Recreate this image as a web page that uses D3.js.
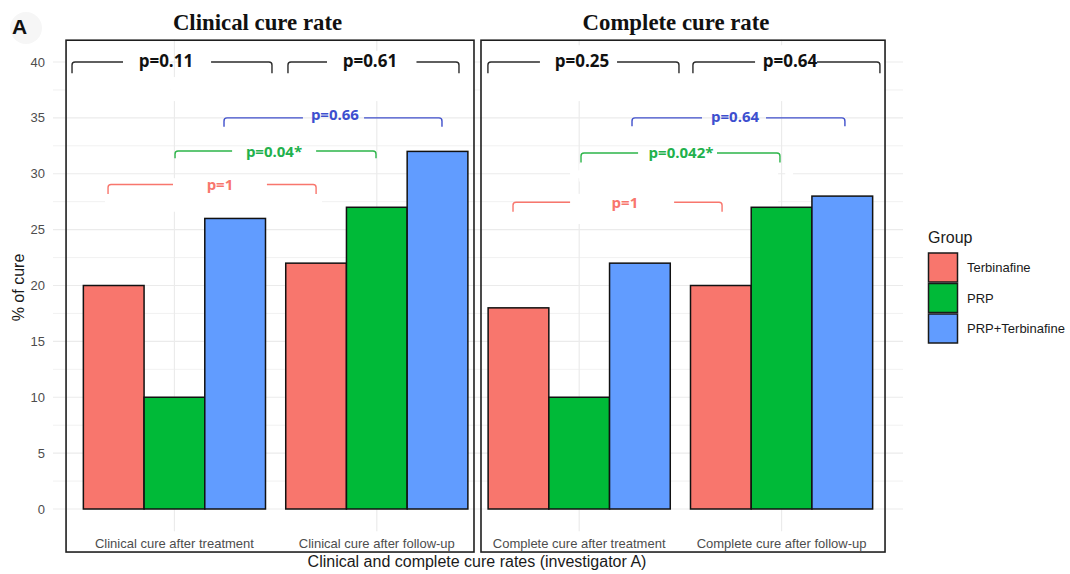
<!DOCTYPE html>
<html>
<head>
<meta charset="utf-8">
<script src="https://cdn.jsdelivr.net/npm/d3@7"></script>
<style>
  html, body { margin: 0; padding: 0; background: #fff; }
  svg { display: block; }
</style>
</head>
<body>
<div id="chart"></div>
<script>
// ---- data ----
const categories = [
  "Clinical cure after treatment",
  "Clinical cure after follow-up",
  "Complete cure after treatment",
  "Complete cure after follow-up"
];
const groups = ["Terbinafine", "PRP", "PRP+Terbinafine"];
const terbinafine    = [20, 22, 18, 20];
const prp            = [10, 27, 10, 27];
const prpTerbinafine = [26, 32, 22, 28];
const yTicks = [0, 5, 10, 15, 20, 25, 30, 35, 40];
const panelTitles = ["Clinical cure rate", "Complete cure rate"];

// p-values of the pairwise comparisons
const pOverall  = ["p=0.11", "p=0.61", "p=0.25", "p=0.64"];
const pBetween  = ["p=1", "p=0.04*", "p=0.66", "p=1", "p=0.042*", "p=0.64"];

// ---- layout ----
const W = 1070, H = 574;
const colors = { "Terbinafine": "#F8766D", "PRP": "#00BA38", "PRP+Terbinafine": "#619CFF" };
const seriesByGroup = [terbinafine, prp, prpTerbinafine];

const svg = d3.select("#chart").append("svg")
  .attr("width", W).attr("height", H)
  .style("font-family", "'Liberation Sans', Arial, sans-serif");

// x in category units (category i centred on i), y in percent
const xu = d3.scaleLinear().domain([-0.6, 3.6]).range([53, 903]);
const y = d3.scaleLinear().domain([0, 40]).range([509, 62]);

// ---- grid ----
const grid = svg.append("g");
const minor = d3.range(2.5, 40, 5);
grid.selectAll(".gmin").data(minor).join("line")
  .attr("x1", xu(-0.6)).attr("x2", xu(3.6))
  .attr("y1", d => y(d)).attr("y2", d => y(d))
  .attr("stroke", "#efefef").attr("stroke-width", 0.9);
grid.selectAll(".gmaj").data(yTicks).join("line")
  .attr("x1", xu(-0.6)).attr("x2", xu(3.6))
  .attr("y1", d => y(d)).attr("y2", d => y(d))
  .attr("stroke", "#ebebeb").attr("stroke-width", 1.2);
grid.selectAll(".gv").data(d3.range(categories.length)).join("line")
  .attr("x1", d => xu(d)).attr("x2", d => xu(d))
  .attr("y1", y(-2)).attr("y2", y(42))
  .attr("stroke", "#ebebeb").attr("stroke-width", 1.2);

// white backgrounds behind the comparison brackets
const bgPatches = [
  [-0.535, -0.02, 41.0, 36.5],
  [0.028, 1.478, 41.0, 36.5],
  [-0.02, 0.028, 38.65, 36.5],
  [-0.343, 0.729, 29.6, 26.6],
  [1.517, 3.508, 41.5, 36.5],
  [1.955, 2.983, 30.3, 29.6],
  [3.018, 3.057, 30.3, 29.6],
  [1.955, 2.983, 28.2, 25.5],
  [2.0, 2.045, 30.9, 29.3]
];
svg.append("g").selectAll("rect").data(bgPatches).join("rect")
  .attr("x", d => xu(d[0])).attr("width", d => xu(d[1]) - xu(d[0]))
  .attr("y", d => y(d[2])).attr("height", d => y(d[3]) - y(d[2]))
  .attr("fill", "#fff");

// ---- y axis ----
svg.append("g").selectAll("text").data(yTicks).join("text")
  .attr("x", 45).attr("y", d => y(d)).attr("dy", "0.35em")
  .attr("text-anchor", "end").attr("font-size", 13).attr("fill", "#4d4d4d")
  .text(d => d);

svg.append("text")
  .attr("transform", `translate(24,${(y(0) + y(40)) / 2 + 2}) rotate(-90)`)
  .attr("text-anchor", "middle").attr("font-size", 16).attr("fill", "#1a1a1a")
  .text("% of cure");

// ---- bars ----
const barW = 0.3;
const bars = [];
categories.forEach((c, i) => {
  groups.forEach((g, j) => {
    bars.push({ cat: i, group: g, value: seriesByGroup[j][i], x0: i - 0.45 + j * barW });
  });
});
svg.append("g").selectAll("rect").data(bars).join("rect")
  .attr("x", d => xu(d.x0)).attr("width", d => xu(d.x0 + barW) - xu(d.x0))
  .attr("y", d => y(d.value)).attr("height", d => y(0) - y(d.value))
  .attr("fill", d => colors[d.group])
  .attr("stroke", "#111").attr("stroke-width", 1.5);

// category labels
svg.append("g").selectAll("text").data(categories).join("text")
  .attr("x", (d, i) => xu(i)).attr("y", 548)
  .attr("text-anchor", "middle").attr("font-size", 13).attr("fill", "#4d4d4d")
  .text(d => d);

// ---- panel frames and titles ----
const frames = [[-0.5355, 1.4802], [1.5148, 3.5112]];
svg.append("g").selectAll("rect").data(frames).join("rect")
  .attr("x", d => xu(d[0])).attr("width", d => xu(d[1]) - xu(d[0]))
  .attr("y", y(41.95)).attr("height", y(-3.85) - y(41.95))
  .attr("fill", "none").attr("stroke", "#1f1f1f").attr("stroke-width", 1.6);

svg.append("g").selectAll("text").data(panelTitles).join("text")
  .attr("x", (d, i) => [257.5, 676][i]).attr("y", 30)
  .attr("text-anchor", "middle")
  .attr("font-family", "'Liberation Serif', 'Times New Roman', serif")
  .attr("font-weight", "bold").attr("font-size", 22.8).attr("fill", "#111")
  .text(d => d);

// ---- comparison brackets ----
// x1, x2: bracket ends; tx: label centre; gap: line break around label; yv: height; drop: tick length
const brackets = [
  { label: pOverall[0], x1: -0.506, x2: 0.482, tx: -0.042, gap: [-0.254, 0.181], yv: 40, drop: 1.0, color: "#2b2b2b", text: "#111", size: 17, dy: 5 },
  { label: pOverall[1], x1: 0.561, x2: 1.406, tx: 0.966, gap: [0.754, 1.196], yv: 40, drop: 1.0, color: "#2b2b2b", text: "#111", size: 17, dy: 5 },
  { label: pOverall[2], x1: 1.549, x2: 2.493, tx: 2.014, gap: [1.806, 2.187], yv: 40, drop: 1.0, color: "#2b2b2b", text: "#111", size: 17, dy: 5 },
  { label: pOverall[3], x1: 2.562, x2: 3.486, tx: 3.042, gap: [2.869, 3.175], yv: 40, drop: 1.0, color: "#2b2b2b", text: "#111", size: 17, dy: 5 },
  { label: pBetween[0], x1: -0.328, x2: 0.700, tx: 0.225, gap: [-0.007, 0.457], yv: 29.04, drop: 0.85, color: "#F8766D", text: "#F8766D", size: 15, dy: 6 },
  { label: pBetween[1], x1: 0.003, x2: 0.996, tx: 0.492, gap: [0.285, 0.700], yv: 32.04, drop: 0.65, color: "#2DB54A", text: "#22B14C", size: 15, dy: 6 },
  { label: pBetween[2], x1: 0.245, x2: 1.322, tx: 0.793, gap: [0.635, 0.937], yv: 35.0, drop: 0.8, color: "#3F4FCB", text: "#3D4FCF", size: 15, dy: 2 },
  { label: pBetween[3], x1: 1.673, x2: 2.706, tx: 2.226, gap: [1.955, 2.469], yv: 27.45, drop: 0.85, color: "#F8766D", text: "#F8766D", size: 15, dy: 6 },
  { label: pBetween[4], x1: 2.009, x2: 2.992, tx: 2.503, gap: [2.291, 2.681], yv: 31.86, drop: 0.85, color: "#2DB54A", text: "#22B14C", size: 15, dy: 5 },
  { label: pBetween[5], x1: 2.261, x2: 3.313, tx: 2.770, gap: [2.607, 2.923], yv: 35.0, drop: 0.75, color: "#3F4FCB", text: "#3D4FCF", size: 15, dy: 4 }
];

const bg = svg.append("g");
const r = 3;
brackets.forEach(b => {
  const X1 = xu(b.x1), X2 = xu(b.x2), Y = y(b.yv), Yd = y(b.yv - b.drop);
  const G1 = xu(b.gap[0]), G2 = xu(b.gap[1]);
  const left = `M${X1},${Yd} L${X1},${Y + r} Q${X1},${Y} ${X1 + r},${Y} L${G1},${Y}`;
  const right = `M${G2},${Y} L${X2 - r},${Y} Q${X2},${Y} ${X2},${Y + r} L${X2},${Yd}`;
  bg.append("path").attr("d", left + " " + right)
    .attr("fill", "none").attr("stroke", b.color).attr("stroke-width", 1.4);
  bg.append("text")
    .attr("x", xu(b.tx)).attr("y", Y + b.dy)
    .attr("text-anchor", "middle")
    .attr("font-family", "'Open Sans', 'Noto Sans', sans-serif")
    .attr("font-weight", "bold").attr("font-size", b.size)
    .attr("fill", b.text)
    .text(b.label);
});

// ---- x axis title ----
svg.append("text")
  .attr("x", 477).attr("y", 567)
  .attr("text-anchor", "middle").attr("font-size", 16).attr("fill", "#1a1a1a")
  .text("Clinical and complete cure rates (investigator A)");

// ---- legend ----
const legend = svg.append("g");
legend.append("text").attr("x", 928).attr("y", 243)
  .attr("font-size", 16).attr("fill", "#1a1a1a").text("Group");
const keyH = 30.5;
legend.selectAll("rect").data(groups).join("rect")
  .attr("x", 928.5).attr("y", (d, i) => 253 + i * keyH)
  .attr("width", 29).attr("height", 29)
  .attr("fill", d => colors[d]).attr("stroke", "#1a1a1a").attr("stroke-width", 1.5);
legend.selectAll("text.lab").data(groups).join("text")
  .attr("class", "lab")
  .attr("x", 967).attr("y", (d, i) => 253 + i * keyH + 14.5).attr("dy", "0.35em")
  .attr("font-size", 13).attr("fill", "#1a1a1a")
  .text(d => d);

// ---- panel tag ----
svg.append("circle").attr("cx", 26).attr("cy", 28).attr("r", 16).attr("fill", "#f6f6f6");
svg.append("text").attr("x", 12).attr("y", 34)
  .attr("font-weight", "bold").attr("font-size", 21).attr("fill", "#111")
  .text("A");
</script>
</body>
</html>
